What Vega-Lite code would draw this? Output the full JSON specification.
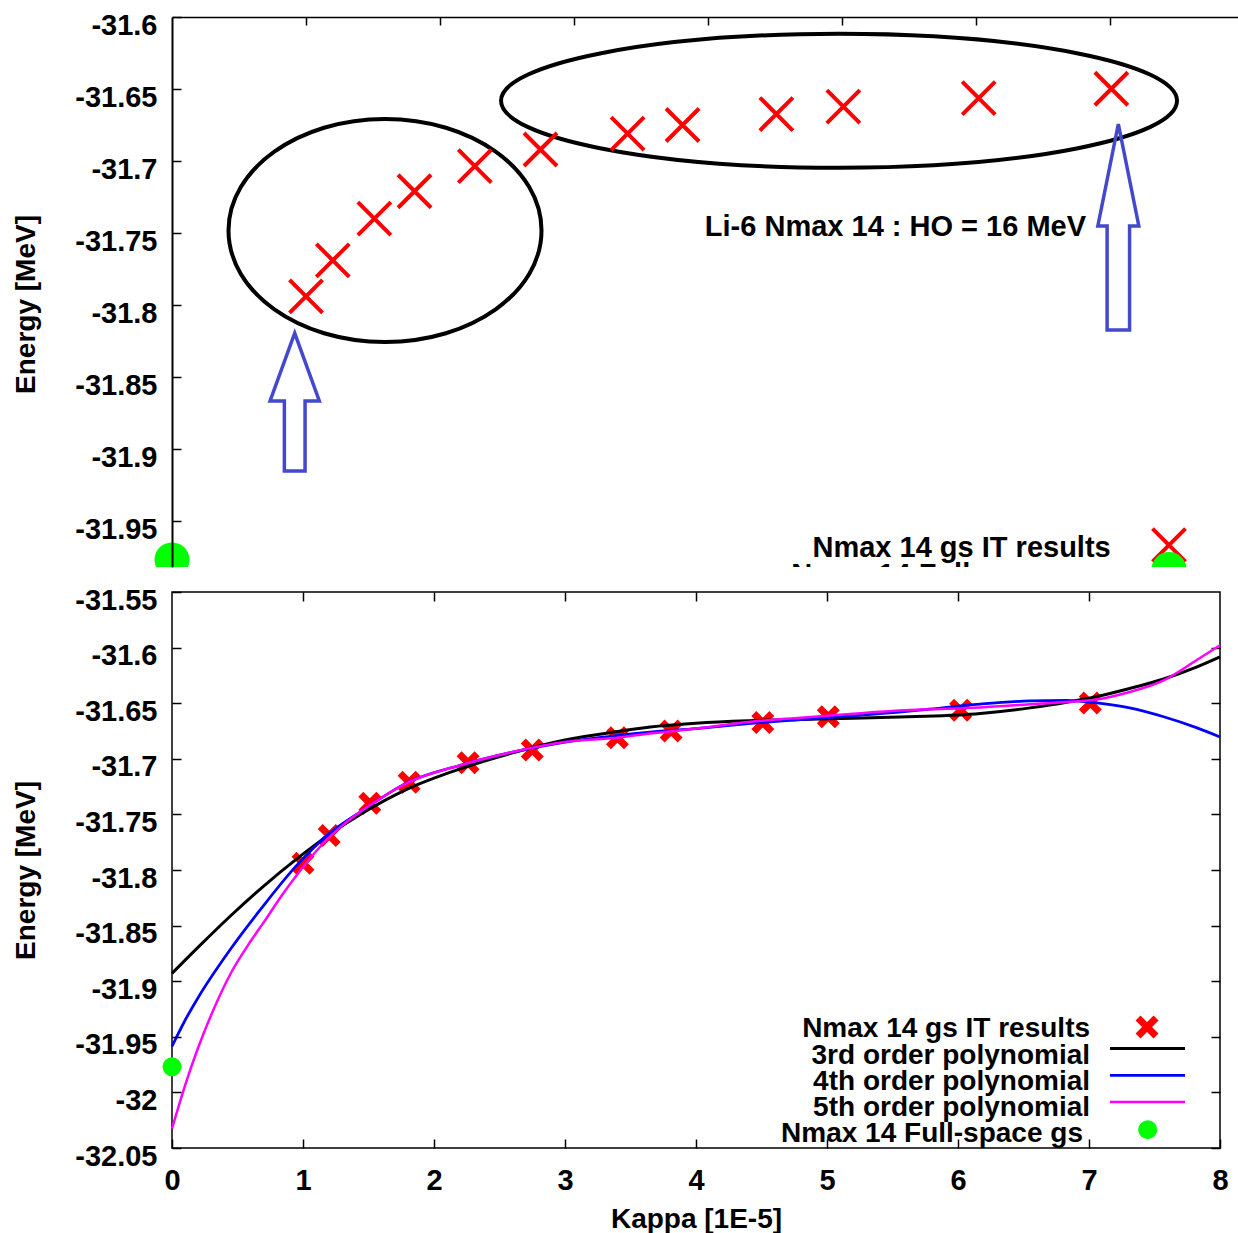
{
  "$schema": "https://vega.github.io/schema/vega-lite/v6.json",
  "background": "white",
  "padding": {"left": 11, "top": 11, "right": 0, "bottom": 0},
  "autosize": {"type": "pad"},
  "bounds": "flush",
  "spacing": 25,
  "config": {
    "font": "Liberation Sans",
    "axis": {"grid": false, "labelFont": "Liberation Sans", "labelFontWeight": "bold", "labelFontSize": 29, "labelColor": "black", "titleFont": "Liberation Sans", "titleFontWeight": "bold", "titleFontSize": 28, "titleColor": "black", "tickColor": "black", "tickWidth": 1.5, "tickSize": -9, "domainColor": "black", "labelBound": false, "labelOverlap": false, "labelFlush": false},
    "text": {"font": "Liberation Sans", "fontWeight": "bold", "fontSize": 28, "color": "black"}
  },
  "datasets": {
    "it": [
      {"kappa": 1.0, "energy": -31.794}, {"kappa": 1.2, "energy": -31.769}, {"kappa": 1.51, "energy": -31.74},
      {"kappa": 1.81, "energy": -31.721}, {"kappa": 2.26, "energy": -31.7035}, {"kappa": 2.75, "energy": -31.692},
      {"kappa": 3.4, "energy": -31.681}, {"kappa": 3.81, "energy": -31.675}, {"kappa": 4.51, "energy": -31.6674},
      {"kappa": 5.01, "energy": -31.6622}, {"kappa": 6.02, "energy": -31.6563}, {"kappa": 7.01, "energy": -31.6498}
    ],
    "fs": [{"kappa": 0, "energy": -31.977}],
    "fits": [
      {"fit": "3rd order polynomial", "kappa": 0, "energy": -31.893},
      {"fit": "3rd order polynomial", "kappa": 0.2, "energy": -31.8694},
      {"fit": "3rd order polynomial", "kappa": 0.45, "energy": -31.8409},
      {"fit": "3rd order polynomial", "kappa": 0.7, "energy": -31.8144},
      {"fit": "3rd order polynomial", "kappa": 0.95, "energy": -31.7902},
      {"fit": "3rd order polynomial", "kappa": 1.2, "energy": -31.7682},
      {"fit": "3rd order polynomial", "kappa": 1.45, "energy": -31.7492},
      {"fit": "3rd order polynomial", "kappa": 1.8, "energy": -31.7271},
      {"fit": "3rd order polynomial", "kappa": 2.2, "energy": -31.7091},
      {"fit": "3rd order polynomial", "kappa": 2.6, "energy": -31.6947},
      {"fit": "3rd order polynomial", "kappa": 3.0, "energy": -31.6831},
      {"fit": "3rd order polynomial", "kappa": 3.4, "energy": -31.6755},
      {"fit": "3rd order polynomial", "kappa": 3.65, "energy": -31.6714},
      {"fit": "3rd order polynomial", "kappa": 4.0, "energy": -31.668},
      {"fit": "3rd order polynomial", "kappa": 4.4, "energy": -31.6658},
      {"fit": "3rd order polynomial", "kappa": 4.8, "energy": -31.6646},
      {"fit": "3rd order polynomial", "kappa": 5.2, "energy": -31.6635},
      {"fit": "3rd order polynomial", "kappa": 5.55, "energy": -31.6625},
      {"fit": "3rd order polynomial", "kappa": 5.75, "energy": -31.6618},
      {"fit": "3rd order polynomial", "kappa": 6.17, "energy": -31.6592},
      {"fit": "3rd order polynomial", "kappa": 6.55, "energy": -31.6542},
      {"fit": "3rd order polynomial", "kappa": 6.83, "energy": -31.6492},
      {"fit": "3rd order polynomial", "kappa": 7.06, "energy": -31.644},
      {"fit": "3rd order polynomial", "kappa": 7.31, "energy": -31.6368},
      {"fit": "3rd order polynomial", "kappa": 7.57, "energy": -31.6282},
      {"fit": "3rd order polynomial", "kappa": 7.82, "energy": -31.6176},
      {"fit": "3rd order polynomial", "kappa": 8.0, "energy": -31.6084},
      {"fit": "4th order polynomial", "kappa": 0, "energy": -31.9586},
      {"fit": "4th order polynomial", "kappa": 0.1, "energy": -31.9351},
      {"fit": "4th order polynomial", "kappa": 0.2, "energy": -31.9146},
      {"fit": "4th order polynomial", "kappa": 0.45, "energy": -31.8706},
      {"fit": "4th order polynomial", "kappa": 0.7, "energy": -31.8318},
      {"fit": "4th order polynomial", "kappa": 0.95, "energy": -31.7961},
      {"fit": "4th order polynomial", "kappa": 1.2, "energy": -31.7673},
      {"fit": "4th order polynomial", "kappa": 1.45, "energy": -31.7468},
      {"fit": "4th order polynomial", "kappa": 1.8, "energy": -31.7212},
      {"fit": "4th order polynomial", "kappa": 2.2, "energy": -31.7058},
      {"fit": "4th order polynomial", "kappa": 2.6, "energy": -31.694},
      {"fit": "4th order polynomial", "kappa": 3.0, "energy": -31.685},
      {"fit": "4th order polynomial", "kappa": 3.4, "energy": -31.679},
      {"fit": "4th order polynomial", "kappa": 3.65, "energy": -31.676},
      {"fit": "4th order polynomial", "kappa": 4.0, "energy": -31.6728},
      {"fit": "4th order polynomial", "kappa": 4.4, "energy": -31.6684},
      {"fit": "4th order polynomial", "kappa": 4.8, "energy": -31.6648},
      {"fit": "4th order polynomial", "kappa": 5.2, "energy": -31.6612},
      {"fit": "4th order polynomial", "kappa": 5.55, "energy": -31.658},
      {"fit": "4th order polynomial", "kappa": 5.75, "energy": -31.6557},
      {"fit": "4th order polynomial", "kappa": 6.17, "energy": -31.6508},
      {"fit": "4th order polynomial", "kappa": 6.55, "energy": -31.6479},
      {"fit": "4th order polynomial", "kappa": 6.83, "energy": -31.6474},
      {"fit": "4th order polynomial", "kappa": 7.06, "energy": -31.6498},
      {"fit": "4th order polynomial", "kappa": 7.31, "energy": -31.6542},
      {"fit": "4th order polynomial", "kappa": 7.57, "energy": -31.6622},
      {"fit": "4th order polynomial", "kappa": 7.82, "energy": -31.672},
      {"fit": "4th order polynomial", "kappa": 8.0, "energy": -31.6804},
      {"fit": "5th order polynomial", "kappa": 0, "energy": -32.0326},
      {"fit": "5th order polynomial", "kappa": 0.1, "energy": -31.9936},
      {"fit": "5th order polynomial", "kappa": 0.2, "energy": -31.9596},
      {"fit": "5th order polynomial", "kappa": 0.3, "energy": -31.9301},
      {"fit": "5th order polynomial", "kappa": 0.45, "energy": -31.8926},
      {"fit": "5th order polynomial", "kappa": 0.6, "energy": -31.8641},
      {"fit": "5th order polynomial", "kappa": 0.7, "energy": -31.8471},
      {"fit": "5th order polynomial", "kappa": 0.85, "energy": -31.8209},
      {"fit": "5th order polynomial", "kappa": 0.95, "energy": -31.8049},
      {"fit": "5th order polynomial", "kappa": 1.1, "energy": -31.7831},
      {"fit": "5th order polynomial", "kappa": 1.2, "energy": -31.7706},
      {"fit": "5th order polynomial", "kappa": 1.3, "energy": -31.7601},
      {"fit": "5th order polynomial", "kappa": 1.45, "energy": -31.7466},
      {"fit": "5th order polynomial", "kappa": 1.6, "energy": -31.735},
      {"fit": "5th order polynomial", "kappa": 1.8, "energy": -31.7215},
      {"fit": "5th order polynomial", "kappa": 2.2, "energy": -31.7058},
      {"fit": "5th order polynomial", "kappa": 2.6, "energy": -31.6939},
      {"fit": "5th order polynomial", "kappa": 3.0, "energy": -31.6849},
      {"fit": "5th order polynomial", "kappa": 3.4, "energy": -31.681},
      {"fit": "5th order polynomial", "kappa": 3.65, "energy": -31.6773},
      {"fit": "5th order polynomial", "kappa": 4.0, "energy": -31.6728},
      {"fit": "5th order polynomial", "kappa": 4.4, "energy": -31.6669},
      {"fit": "5th order polynomial", "kappa": 4.8, "energy": -31.663},
      {"fit": "5th order polynomial", "kappa": 5.2, "energy": -31.6594},
      {"fit": "5th order polynomial", "kappa": 5.55, "energy": -31.6566},
      {"fit": "5th order polynomial", "kappa": 5.75, "energy": -31.6556},
      {"fit": "5th order polynomial", "kappa": 6.17, "energy": -31.6538},
      {"fit": "5th order polynomial", "kappa": 6.55, "energy": -31.651},
      {"fit": "5th order polynomial", "kappa": 6.83, "energy": -31.6489},
      {"fit": "5th order polynomial", "kappa": 7.06, "energy": -31.6466},
      {"fit": "5th order polynomial", "kappa": 7.31, "energy": -31.6399},
      {"fit": "5th order polynomial", "kappa": 7.57, "energy": -31.6294},
      {"fit": "5th order polynomial", "kappa": 7.82, "energy": -31.6114},
      {"fit": "5th order polynomial", "kappa": 8.0, "energy": -31.5979}
    ],
    "legend_text": [
      {"kappa": 7.008, "energy": -31.94335, "label": "Nmax 14 gs IT results"},
      {"kappa": 7.008, "energy": -31.967, "label": "3rd order polynomial"},
      {"kappa": 7.008, "energy": -31.99056, "label": "4th order polynomial"},
      {"kappa": 7.008, "energy": -32.01376, "label": "5th order polynomial"},
      {"kappa": 6.954, "energy": -32.03777, "label": "Nmax 14 Full-space gs"}
    ],
    "legend_lines": [
      {"fit": "3rd order polynomial", "kappa": 7.16, "kappa2": 7.733, "energy": -31.9606},
      {"fit": "4th order polynomial", "kappa": 7.16, "kappa2": 7.733, "energy": -31.9847},
      {"fit": "5th order polynomial", "kappa": 7.16, "kappa2": 7.733, "energy": -32.0086}
    ]
  },
  "vconcat": [
    {
      "width": 1066,
      "height": 550,
      "view": {"stroke": null},
      "layer": [
        {
          "data": {"values": [{"kappa": 1.5896, "energy": -31.74826}]},
          "mark": {"type": "point", "shape": "M 1 0 C 1 0.3935 0.5523 0.7125 0 0.7125 C -0.5523 0.7125 -1 0.3935 -1 0 C -1 -0.3935 -0.5523 -0.7125 0 -0.7125 C 0.5523 -0.7125 1 -0.3935 1 0 Z", "size": 97969, "filled": false, "stroke": "black", "strokeWidth": 4, "opacity": 1},
          "encoding": {
            "x": {"field": "kappa", "type": "quantitative", "scale": {"domain": [0, 7.955], "nice": false, "zero": false},
                  "axis": {"orient": "top", "values": [1, 2, 3, 4, 5, 6, 7], "labels": false, "title": null, "domain": true, "domainWidth": 1.5, "tickSize": -8}},
            "y": {"field": "energy", "type": "quantitative", "scale": {"domain": [-31.98194, -31.6], "nice": false, "zero": false},
                  "axis": {"orient": "left", "values": [-31.6, -31.65, -31.7, -31.75, -31.8, -31.85, -31.9, -31.95], "format": "~g", "labelExpr": "replace(datum.label, '\u2212', '-')", "labelPadding": 24, "labelOffset": 8, "domain": true, "domainWidth": 2, "title": "Energy [MeV]", "titleX": -132, "titleY": 287, "titleAngle": 270, "titleAlign": "center", "titleBaseline": "bottom", "zindex": 1}}
          }
        },
        {
          "data": {"values": [{"kappa": 4.9776, "energy": -31.6582}]},
          "mark": {"type": "point", "shape": "M 1 0 C 1 0.1095 0.5523 0.1982 0 0.1982 C -0.5523 0.1982 -1 0.1095 -1 0 C -1 -0.1095 -0.5523 -0.1982 0 -0.1982 C 0.5523 -0.1982 1 -0.1095 1 0 Z", "size": 456976, "filled": false, "stroke": "black", "strokeWidth": 4, "opacity": 1},
          "encoding": {"x": {"field": "kappa", "type": "quantitative"}, "y": {"field": "energy", "type": "quantitative"}}
        },
        {
          "data": {"values": [{"kappa": 0.9157, "energy": -31.8674}]},
          "mark": {"type": "point", "shape": "M 0 -1 L 0.357 -0.015 L 0.15 -0.015 L 0.15 1 L -0.15 1 L -0.15 -0.015 L -0.357 -0.015 Z", "size": 19044, "filled": false, "stroke": "#4448cc", "strokeWidth": 3.5, "opacity": 1},
          "encoding": {"x": {"field": "kappa", "type": "quantitative"}, "y": {"field": "energy", "type": "quantitative"}}
        },
        {
          "data": {"values": [{"kappa": 7.062, "energy": -31.74583}]},
          "mark": {"type": "point", "shape": "M 0 -1 L 0.199 -0.01 L 0.109 -0.01 L 0.109 1 L -0.109 1 L -0.109 -0.01 L -0.199 -0.01 Z", "size": 42436, "filled": false, "stroke": "#4448cc", "strokeWidth": 3.5, "opacity": 1},
          "encoding": {"x": {"field": "kappa", "type": "quantitative"}, "y": {"field": "energy", "type": "quantitative"}}
        },
        {
          "data": {"name": "it"},
          "mark": {"type": "point", "shape": "M -1 -1 L 1 1 M -1 1 L 1 -1", "size": 1089, "filled": false, "stroke": "#ff0000", "strokeWidth": 4, "opacity": 1},
          "encoding": {"x": {"field": "kappa", "type": "quantitative"}, "y": {"field": "energy", "type": "quantitative"}}
        },
        {
          "data": {"values": [{"kappa": 6.821, "energy": -31.74556, "label": "Li-6 Nmax 14 : HO = 16 MeV"}]},
          "mark": {"type": "text", "align": "right", "baseline": "middle", "fontSize": 29},
          "encoding": {"x": {"field": "kappa", "type": "quantitative"}, "y": {"field": "energy", "type": "quantitative"}, "text": {"field": "label"}}
        },
        {
          "data": {"values": [
            {"kappa": 7.005, "energy": -31.96896, "label": "Nmax 14 gs IT results"},
            {"kappa": 6.955, "energy": -31.98736, "label": "Nmax 14 Full-space gs"}
          ]},
          "mark": {"type": "text", "align": "right", "baseline": "middle", "fontSize": 29, "clip": true},
          "encoding": {"x": {"field": "kappa", "type": "quantitative"}, "y": {"field": "energy", "type": "quantitative"}, "text": {"field": "label"}}
        },
        {
          "data": {"values": [{"kappa": 7.44, "energy": -31.9667}]},
          "mark": {"type": "point", "shape": "M -1 -1 L 1 1 M -1 1 L 1 -1", "size": 1089, "filled": false, "stroke": "#ff0000", "strokeWidth": 4, "opacity": 1},
          "encoding": {"x": {"field": "kappa", "type": "quantitative"}, "y": {"field": "energy", "type": "quantitative"}}
        },
        {
          "data": {"values": [{"kappa": 7.44, "energy": -31.98368}]},
          "mark": {"type": "point", "shape": "circle", "size": 1225, "filled": true, "color": "#00ff00", "opacity": 1, "clip": true},
          "encoding": {"x": {"field": "kappa", "type": "quantitative"}, "y": {"field": "energy", "type": "quantitative"}}
        },
        {
          "data": {"name": "fs"},
          "mark": {"type": "point", "shape": "M -0.914 0.406 A 1 1 0 1 1 0.914 0.406 Z", "size": 1225, "filled": true, "color": "#00ff00", "opacity": 1},
          "encoding": {"x": {"field": "kappa", "type": "quantitative"}, "y": {"field": "energy", "type": "quantitative"}}
        }
      ]
    },
    {
      "width": 1048,
      "height": 556,
      "view": {"stroke": "black", "strokeWidth": 1.5},
      "resolve": {"axis": {"x": "independent", "y": "independent"}},
      "layer": [
        {
          "data": {"name": "it"},
          "mark": {"type": "point", "shape": "M -1 -1 L 1 1 M -1 1 L 1 -1", "size": 324, "filled": false, "stroke": "#ff0000", "strokeWidth": 7, "opacity": 1},
          "encoding": {
            "x": {"field": "kappa", "type": "quantitative", "scale": {"domain": [0, 8], "nice": false, "zero": false},
                  "axis": {"orient": "top", "values": [1, 2, 3, 4, 5, 6, 7], "labels": false, "title": null, "domain": false}},
            "y": {"field": "energy", "type": "quantitative", "scale": {"domain": [-32.05, -31.55], "nice": false, "zero": false},
                  "axis": {"orient": "right", "values": [-31.6, -31.65, -31.7, -31.75, -31.8, -31.85, -31.9, -31.95, -32, -32.05], "labels": false, "title": null, "domain": false}}
          }
        },
        {
          "data": {"name": "fits"},
          "mark": {"type": "line", "interpolate": "monotone"},
          "encoding": {
            "x": {"field": "kappa", "type": "quantitative",
                  "axis": {"orient": "bottom", "values": [0, 1, 2, 3, 4, 5, 6, 7, 8], "format": "d", "labelPadding": 27, "domain": false, "title": "Kappa [1E-5]", "titleY": 71, "titleBaseline": "middle"}},
            "y": {"field": "energy", "type": "quantitative",
                  "axis": {"orient": "left", "values": [-31.55, -31.6, -31.65, -31.7, -31.75, -31.8, -31.85, -31.9, -31.95, -32, -32.05], "format": "~g", "labelExpr": "replace(datum.label, '\u2212', '-')", "labelPadding": 24, "labelOffset": 8, "domain": false, "title": "Energy [MeV]", "titleX": -132, "titleY": 278, "titleAngle": 270, "titleAlign": "center", "titleBaseline": "bottom", "zindex": 1}},
            "color": {"field": "fit", "type": "nominal", "scale": {"domain": ["3rd order polynomial", "4th order polynomial", "5th order polynomial"], "range": ["#000000", "#0000ff", "#ff00ff"]}, "legend": null},
            "strokeWidth": {"field": "fit", "type": "nominal", "scale": {"domain": ["3rd order polynomial", "4th order polynomial", "5th order polynomial"], "range": [3, 2.5, 2.5]}, "legend": null}
          }
        },
        {
          "data": {"name": "fs"},
          "mark": {"type": "point", "shape": "circle", "size": 361, "filled": true, "color": "#00ff00", "opacity": 1},
          "encoding": {"x": {"field": "kappa", "type": "quantitative", "axis": null}, "y": {"field": "energy", "type": "quantitative", "axis": null}}
        },
        {
          "data": {"name": "legend_text"},
          "mark": {"type": "text", "align": "right", "baseline": "middle"},
          "encoding": {"x": {"field": "kappa", "type": "quantitative", "axis": null}, "y": {"field": "energy", "type": "quantitative", "axis": null}, "text": {"field": "label"}}
        },
        {
          "data": {"values": [{"kappa": 7.443, "energy": -31.9412}]},
          "mark": {"type": "point", "shape": "M -1 -1 L 1 1 M -1 1 L 1 -1", "size": 324, "filled": false, "stroke": "#ff0000", "strokeWidth": 7, "opacity": 1},
          "encoding": {"x": {"field": "kappa", "type": "quantitative", "axis": null}, "y": {"field": "energy", "type": "quantitative", "axis": null}}
        },
        {
          "data": {"name": "legend_lines"},
          "mark": {"type": "rule"},
          "encoding": {
            "x": {"field": "kappa", "type": "quantitative", "axis": null},
            "x2": {"field": "kappa2"},
            "y": {"field": "energy", "type": "quantitative", "axis": null},
            "color": {"field": "fit", "type": "nominal", "legend": null},
            "strokeWidth": {"field": "fit", "type": "nominal", "legend": null}
          }
        },
        {
          "data": {"values": [{"kappa": 7.448, "energy": -32.0335}]},
          "mark": {"type": "point", "shape": "circle", "size": 361, "filled": true, "color": "#00ff00", "opacity": 1},
          "encoding": {"x": {"field": "kappa", "type": "quantitative", "axis": null}, "y": {"field": "energy", "type": "quantitative", "axis": null}}
        }
      ]
    }
  ]
}
